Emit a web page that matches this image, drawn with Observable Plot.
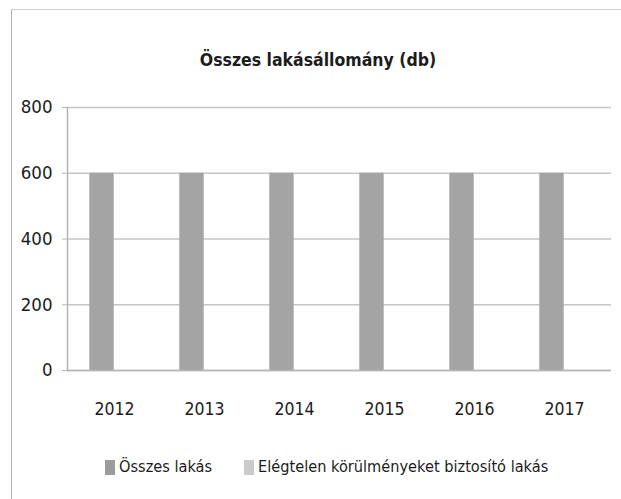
<!DOCTYPE html>
<html>
<head>
<meta charset="utf-8">
<script src="https://cdn.jsdelivr.net/npm/d3@7"></script>
<script src="https://cdn.jsdelivr.net/npm/@observablehq/plot@0.6"></script>
<style>
  html, body { margin: 0; padding: 0; background: #fff; }
  #root { position: relative; width: 621px; height: 499px; overflow: hidden;
          font-family: "DejaVu Sans Condensed", "DejaVu Sans", sans-serif; font-stretch: condensed; color: #1c1c1c; }
  #frame { position: absolute; left: 11px; top: 9px; width: 620px; height: 500px;
           border-left: 1px solid #b0b0b0; border-top: 1px solid #cfcfcf; }
  #title { position: absolute; left: 0; width: 636px; top: 48px; text-align: center;
           font-weight: bold; font-size: 17.5px; line-height: 24px; white-space: nowrap; }
  #chart { position: absolute; left: 0; top: 80px; }
  #chart svg text { font-stretch: condensed; }
  #legend { position: absolute; left: 105px; top: 456px; display: flex; align-items: center;
            font-size: 16.2px; line-height: 22px; white-space: nowrap; }
  .item { display: flex; align-items: center; margin-right: 32px; }
  .sw { width: 10px; height: 15px; margin-right: 4px; flex: none; }
</style>
</head>
<body>
<div id="root">
  <div id="frame"></div>
  <div id="title">Összes lakásállomány (db)</div>
  <div id="chart"></div>
  <div id="legend"></div>
</div>
<script>
const years = ["2012", "2013", "2014", "2015", "2016", "2017"];
const seriesNames = ["Összes lakás", "Elégtelen körülményeket biztosító lakás"];
const osszesLakas = [600, 600, 600, 600, 600, 600];
const elegtelenLakas = [0, 0, 0, 0, 0, 0];
const yTicks = [0, 200, 400, 600, 800];
const seriesColors = ["#a4a4a4", "#cdcdcd"];

const data1 = years.map((y, i) => ({year: y, value: osszesLakas[i], series: seriesNames[0]}));
const data2 = years.map((y, i) => ({year: y, value: elegtelenLakas[i], series: seriesNames[1]}));

const fontFamily = '"DejaVu Sans Condensed", "DejaVu Sans", sans-serif';

const chart = Plot.plot({
  width: 621,
  height: 350,
  marginLeft: 67,
  marginRight: 10,
  marginTop: 27,
  marginBottom: 60,
  style: {fontFamily, fontSize: "18px", color: "#1c1c1c", background: "transparent"},
  x: {domain: years, padding: 0, label: null},
  y: {domain: [0, 800], label: null},
  color: {domain: seriesNames, range: seriesColors},
  marks: [
    Plot.gridY(yTicks, {stroke: "#c6c6c6", strokeOpacity: 1, strokeWidth: 1.5}),
    Plot.frame({anchor: "left", stroke: "#b5b5b5", strokeWidth: 1.5}),
    Plot.axisY(yTicks, {tickSize: 5, tickPadding: 10, stroke: "#b5b5b5", fontSize: 18.5, label: null}),
    Plot.axisX({tickSize: 0, tickPadding: 32, fontSize: 17.5, label: null}),
    Plot.barY(data1, {x: "year", y: "value", fill: "series", insetLeft: 20.3, insetRight: 45.3}),
    Plot.barY(data2, {x: "year", y: "value", fill: "series", insetLeft: 45.3, insetRight: 20.3}),
    Plot.ruleY([0], {stroke: "#b5b5b5", strokeWidth: 1.5})
  ]
});
document.getElementById("chart").appendChild(chart);

const legend = d3.select("#legend");
seriesNames.forEach((name, i) => {
  const it = legend.append("div").attr("class", "item");
  it.append("div").attr("class", "sw").style("background", i === 0 ? "#9c9c9c" : "#cbcbcb");
  it.append("span").text(name);
});
</script>
</body>
</html>
